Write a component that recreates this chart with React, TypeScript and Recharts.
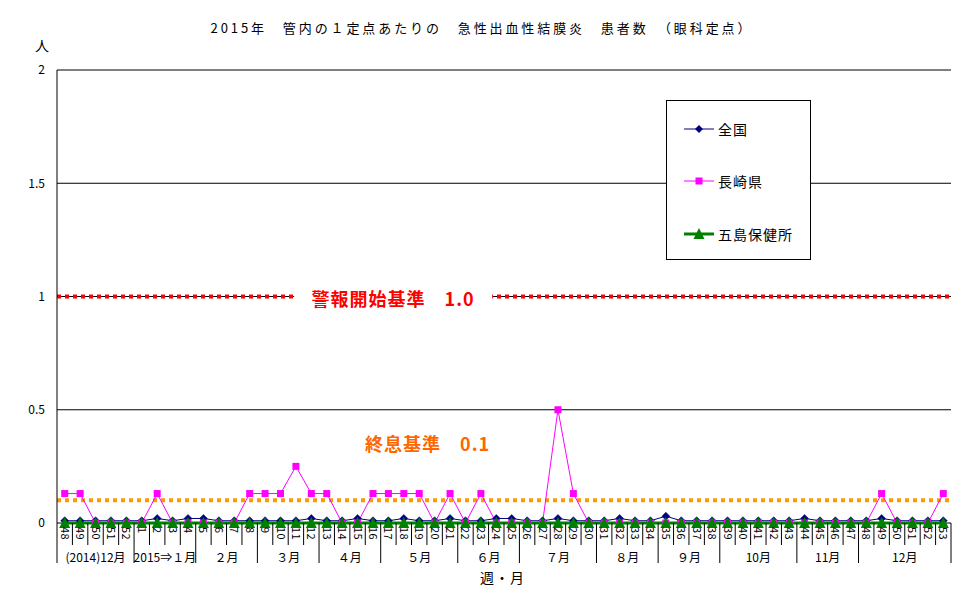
import React from 'react';
import { LineChart, Line, XAxis, YAxis, CartesianGrid, ReferenceLine } from 'recharts';

const weeks: string[] = [
  '48', '49', '50', '51', '52',
  '1', '2', '3', '4', '5', '6', '7', '8', '9', '10',
  '11', '12', '13', '14', '15', '16', '17', '18', '19', '20',
  '21', '22', '23', '24', '25', '26', '27', '28', '29', '30',
  '31', '32', '33', '34', '35', '36', '37', '38', '39', '40',
  '41', '42', '43', '44', '45', '46', '47', '48', '49', '50',
  '51', '52', '53',
];

const national: number[] = [
  0.01, 0.01, 0.01, 0.01, 0.01,
  0.01, 0.02, 0.01, 0.02, 0.02, 0.01, 0.01, 0.01, 0.01, 0.01,
  0.01, 0.02, 0.01, 0.01, 0.02, 0.01, 0.01, 0.02, 0.01, 0.01,
  0.02, 0.01, 0.01, 0.02, 0.02, 0.01, 0.01, 0.02, 0.01, 0.01,
  0.01, 0.02, 0.01, 0.01, 0.03, 0.01, 0.01, 0.01, 0.01, 0.01,
  0.01, 0.01, 0.01, 0.02, 0.01, 0.01, 0.01, 0.01, 0.02, 0.01,
  0.01, 0.01, 0.01,
];

const nagasaki: number[] = [
  0.13, 0.13, 0, 0, 0,
  0, 0.13, 0, 0, 0, 0, 0, 0.13, 0.13, 0.13,
  0.25, 0.13, 0.13, 0, 0, 0.13, 0.13, 0.13, 0.13, 0,
  0.13, 0, 0.13, 0, 0, 0, 0, 0.5, 0.13, 0,
  0, 0, 0, 0, 0, 0, 0, 0, 0, 0,
  0, 0, 0, 0, 0, 0, 0, 0, 0.13, 0,
  0, 0, 0.13,
];

const goto: number[] = [
  0, 0, 0, 0, 0,
  0, 0, 0, 0, 0, 0, 0, 0, 0, 0,
  0, 0, 0, 0, 0, 0, 0, 0, 0, 0,
  0, 0, 0, 0, 0, 0, 0, 0, 0, 0,
  0, 0, 0, 0, 0, 0, 0, 0, 0, 0,
  0, 0, 0, 0, 0, 0, 0, 0, 0, 0,
  0, 0, 0,
];

const monthLabels: string[] = ['(2014)12月', '2015⇒１月', '２月', '３月', '４月', '５月', '６月', '７月', '８月', '９月', '10月', '11月', '12月'];
const monthWeekCounts: number[] = [5, 4, 4, 4, 4, 5, 4, 5, 4, 4, 5, 4, 6];

const yTicks: number[] = [0, 0.5, 1, 1.5, 2];

const alarmLevel = 1.0;
const alarmText = '警報開始基準　1.0';
const endLevel = 0.1;
const endText = '終息基準　0.1';

const title = '2015年　管内の１定点あたりの　急性出血性結膜炎　患者数　（眼科定点）';

const seriesNames = ['全国', '長崎県', '五島保健所'];

const FONT = "'Noto Sans CJK JP', 'Noto Sans', sans-serif";

const CHART_W = 970;
const CHART_H = 604;
const MARGIN = { top: 70, right: 19, left: 0, bottom: 0 };
const Y_AXIS_W = 57;
const X_AXIS_H = 81;
const PLOT_W = CHART_W - MARGIN.left - MARGIN.right - Y_AXIS_W;

const data = weeks.map((w, i) => ({
  week: w,
  national: national[i],
  nagasaki: nagasaki[i],
  goto: goto[i],
}));

// month boundaries (by week index)
const monthStart: Record<number, { label: string; count: number }> = {};
const monthEnd = new Set<number>();
{
  let idx = 0;
  monthLabels.forEach((m, j) => {
    monthStart[idx] = { label: m, count: monthWeekCounts[j] };
    idx += monthWeekCounts[j];
    monthEnd.add(idx - 1);
  });
}

const band = PLOT_W / weeks.length;

const WeekTick = (props: any) => {
  const { x, y, payload, index } = props;
  const i = payload && typeof payload.index === 'number' ? payload.index : index;
  const right = x + band / 2;
  const left = x - band / 2;
  const ms = monthStart[i];
  return (
    <g>
      <text
        transform={`translate(${x},${y + 4}) rotate(90)`}
        textAnchor="start"
        dy="0.36em"
        fontSize={11}
        fontFamily={FONT}
        fill="#000"
        letterSpacing={0.5}
      >
        {payload.value}
      </text>
      {i === 0 && <line x1={left} x2={left} y1={y} y2={y + 40} stroke="#000" strokeWidth={1} />}
      <line x1={right} x2={right} y1={y} y2={monthEnd.has(i) ? y + 40 : y + 22} stroke="#000" strokeWidth={1} />
      {ms && (
        <text
          x={left + (ms.count * band) / 2}
          y={y + 33}
          textAnchor="middle"
          dominantBaseline="central"
          fontSize={12}
          fontFamily={FONT}
          fill="#000"
        >
          {ms.label}
        </text>
      )}
    </g>
  );
};

const Diamond = (props: any) => {
  const { cx, cy, index } = props;
  if (cx == null || cy == null) return <g key={`d-${index}`} />;
  return <path key={`d-${index}`} d={`M${cx},${cy - 4}L${cx + 4},${cy}L${cx},${cy + 4}L${cx - 4},${cy}Z`} fill="#000080" stroke="#000080" strokeWidth={0.5} />;
};

const Square = (props: any) => {
  const { cx, cy, index } = props;
  if (cx == null || cy == null) return <g key={`s-${index}`} />;
  return <rect key={`s-${index}`} x={cx - 3.5} y={cy - 3.5} width={7} height={7} fill="#FF00FF" />;
};

const Triangle = (props: any) => {
  const { cx, cy, index } = props;
  if (cx == null || cy == null) return <g key={`t-${index}`} />;
  return <path key={`t-${index}`} d={`M${cx},${cy - 6}L${cx + 5.5},${cy + 5}L${cx - 5.5},${cy + 5}Z`} fill="#008000" />;
};

const AlarmLabel = (props: any) => {
  const vb = props.viewBox || {};
  const cx = vb.x + vb.width * 0.376;
  const cy = vb.y;
  return (
    <g>
      <rect x={cx - 99} y={cy - 13} width={198} height={26} fill="#fff" />
      <text x={cx} y={cy + 1} textAnchor="middle" dominantBaseline="central" fill="#FF0000" fontSize={18} fontWeight="bold" fontFamily={FONT} letterSpacing={1}>
        {alarmText}
      </text>
    </g>
  );
};

const EndLabel = (props: any) => {
  const vb = props.viewBox || {};
  const cx = vb.x + vb.width * 0.4145;
  const cy = vb.y - 57;
  return (
    <text x={cx} y={cy} textAnchor="middle" dominantBaseline="central" fill="#FF6600" fontSize={18} fontWeight="bold" fontFamily={FONT} letterSpacing={1}>
      {endText}
    </text>
  );
};

const legendMarkers = [
  (
    <svg width={30} height={12} key="m0">
      <line x1={0} x2={30} y1={6} y2={6} stroke="#000080" strokeWidth={1} />
      <path d="M15,2L19,6L15,10L11,6Z" fill="#000080" />
    </svg>
  ),
  (
    <svg width={30} height={12} key="m1">
      <line x1={0} x2={30} y1={6} y2={6} stroke="#FF00FF" strokeWidth={1} />
      <rect x={11.5} y={2.5} width={7} height={7} fill="#FF00FF" />
    </svg>
  ),
  (
    <svg width={30} height={14} key="m2">
      <line x1={0} x2={30} y1={7} y2={7} stroke="#008000" strokeWidth={3} />
      <path d="M15,1L20.5,12L9.5,12Z" fill="#008000" />
    </svg>
  ),
];

const legendTops = [128, 180, 233];

export default function App() {
  return (
    <div style={{ position: 'absolute', left: 0, top: 0, width: CHART_W, height: CHART_H, background: '#fff', fontFamily: FONT }}>
      <LineChart width={CHART_W} height={CHART_H} data={data} margin={MARGIN}>
        <CartesianGrid yAxisId="left" horizontal vertical={false} stroke="#000" strokeWidth={1} />
        <XAxis
          dataKey="week"
          interval={0}
          height={X_AXIS_H}
          tickLine={false}
          axisLine={false}
          tickSize={0}
          tickMargin={0}
          padding={{ left: band / 2, right: band / 2 }}
          tick={<WeekTick />}
        />
        <YAxis
          yAxisId="left"
          domain={[0, 2]}
          ticks={yTicks}
          width={Y_AXIS_W}
          axisLine={{ stroke: '#000', strokeWidth: 1 }}
          tickLine={false}
          tickSize={6}
          tickMargin={6}
          interval={0}
          tick={{ fill: '#000', fontSize: 12, fontFamily: FONT }}
        />
        <YAxis
          yAxisId="right"
          orientation="right"
          domain={[0, 2]}
          ticks={yTicks}
          width={0}
          axisLine={{ stroke: '#000', strokeWidth: 1 }}
          tickLine={false}
          tick={false}
        />
        <ReferenceLine yAxisId="left" y={alarmLevel} stroke="#FF0000" strokeWidth={4} strokeDasharray="4 4" label={<AlarmLabel />} />
        <ReferenceLine yAxisId="left" y={endLevel} stroke="#FF9900" strokeWidth={4} strokeDasharray="4 4" label={<EndLabel />} />
        <Line yAxisId="left" dataKey="national" name={seriesNames[0]} stroke="#000080" strokeWidth={1} dot={Diamond} activeDot={false} isAnimationActive={false} />
        <Line yAxisId="left" dataKey="nagasaki" name={seriesNames[1]} stroke="#FF00FF" strokeWidth={1} dot={Square} activeDot={false} isAnimationActive={false} />
        <Line yAxisId="left" dataKey="goto" name={seriesNames[2]} stroke="#008000" strokeWidth={3} dot={Triangle} activeDot={false} isAnimationActive={false} />
      </LineChart>

      <div style={{ position: 'absolute', left: 0, width: CHART_W - 6, top: 19, textAlign: 'center', fontSize: 13, letterSpacing: 2.9, lineHeight: '18px', whiteSpace: 'nowrap' }}>
        {title}
      </div>
      <div style={{ position: 'absolute', left: 35, top: 36, fontSize: 14, lineHeight: '18px' }}>人</div>
      <div style={{ position: 'absolute', left: 480, top: 567, fontSize: 14, lineHeight: '20px', letterSpacing: 1 }}>週・月</div>

      <div style={{ position: 'absolute', left: 666, top: 100, width: 143, height: 158, background: '#fff', border: '1px solid #000' }}>
        {seriesNames.map((n, i) => (
          <div key={n} style={{ position: 'absolute', left: 17, top: legendTops[i] - 100 - 10, height: 20, display: 'flex', alignItems: 'center' }}>
            {legendMarkers[i]}
            <span style={{ marginLeft: 4, fontSize: 14, letterSpacing: 1, whiteSpace: 'nowrap' }}>{n}</span>
          </div>
        ))}
      </div>
    </div>
  );
}
